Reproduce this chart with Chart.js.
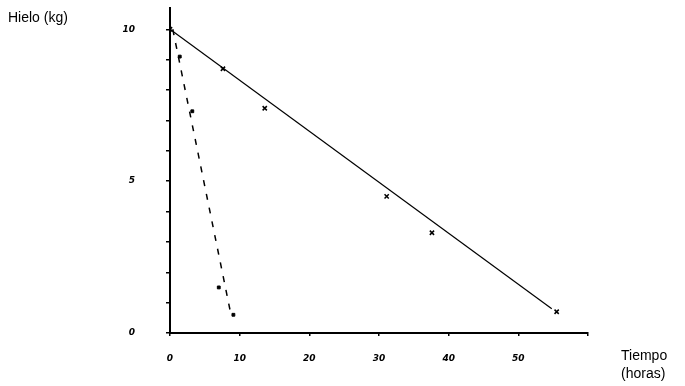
<!DOCTYPE html>
<html>
<head>
<meta charset="utf-8">
<script src="https://cdn.jsdelivr.net/npm/chart.js@4/dist/chart.umd.min.js"></script>
<style>
  html, body { margin: 0; padding: 0; background: #fff; }
  #wrap { width: 685px; height: 386px; }
</style>
</head>
<body>
<div id="wrap"><canvas id="chart" width="685" height="386"></canvas></div>
<script>
'use strict';

// measured points, first experiment (crosses, solid line)
var crossTime = [0, 7.6, 13.6, 31.1, 37.6, 55.5];
var crossIce = [10, 8.7, 7.4, 4.5, 3.3, 0.7];
// fitted straight line through those
var solidFitTime = [0, 54.8];
var solidFitIce = [10, 0.8];

// second experiment (dots, dashed line)
var dotTime = [1.4, 3.2, 7.0, 9.1];
var dotIce = [9.1, 7.3, 1.5, 0.6];
var dashFitTime = [0.4, 8.8];
var dashFitIce = [10, 0.55];

// axis ticks
var xTicks = [0, 10, 20, 30, 40, 50, 60];
var xLabelled = [0, 10, 20, 30, 40, 50];
var yLabelled = [0, 5, 10];

function toPoints(xs, ys) {
  var pts = [];
  for (var i = 0; i < xs.length; i++) {
    pts.push({x: xs[i], y: ys[i]});
  }
  return pts;
}

var tickFont = {family: '"DejaVu Sans"', size: 9, style: 'italic', weight: 'bold'};

//draws the two axis captions
var captions = {
  id: 'captions',
  afterDraw: function(chart) {
    var ctx = chart.ctx;
    ctx.save();
    ctx.fillStyle = '#000';
    ctx.font = '14px "Liberation Sans", Arial, sans-serif';
    ctx.textBaseline = 'middle';
    ctx.textAlign = 'left';
    ctx.fillText('Hielo (kg)', 8, 18);
    ctx.fillText('Tiempo', 621, 356);
    ctx.fillText('(horas)', 621, 374);
    ctx.restore();
  }
};

var ctx = document.getElementById('chart').getContext('2d');
new Chart(ctx, {
  type: 'scatter',
  data: {
    datasets: [
      {
        data: toPoints(solidFitTime, solidFitIce),
        showLine: true,
        borderColor: '#000',
        borderWidth: 1.2,
        pointRadius: 0
      },
      {
        data: toPoints(crossTime, crossIce),
        showLine: false,
        pointStyle: 'crossRot',
        pointRadius: 3,
        borderColor: '#000',
        borderWidth: 1.5
      },
      {
        data: toPoints(dashFitTime, dashFitIce),
        showLine: true,
        borderColor: '#000',
        borderWidth: 1.5,
        borderDash: [6, 8],
        pointRadius: 0
      },
      {
        data: toPoints(dotTime, dotIce),
        showLine: false,
        pointStyle: 'rect',
        pointRadius: 2,
        backgroundColor: '#000',
        borderColor: '#000',
        borderWidth: 1
      }
    ]
  },
  options: {
    responsive: false,
    animation: false,
    layout: {padding: {left: 0, right: 97, top: 8, bottom: 0}},
    plugins: {legend: {display: false}, tooltip: {enabled: false}},
    scales: {
      x: {
        type: 'linear',
        min: 0,
        max: 60,
        afterFit: function(scale) { scale.height = 53; },
        afterBuildTicks: function(scale) {
          scale.ticks = xTicks.map(function(v) { return {value: v}; });
        },
        border: {display: true, color: '#000', width: 2},
        grid: {drawOnChartArea: false, drawTicks: true, tickLength: 3, color: '#000', lineWidth: 1.5},
        ticks: {
          color: '#000',
          font: tickFont,
          padding: 17,
          maxRotation: 0,
          callback: function(v) { return xLabelled.indexOf(v) >= 0 ? String(v) : ''; }
        }
      },
      y: {
        type: 'linear',
        min: 0,
        max: 10.7,
        afterFit: function(scale) {
          scale.width = 170;
          // the wide label gap would otherwise push the plot down
          scale.paddingTop = 0;
          scale.paddingBottom = 0;
        },
        afterBuildTicks: function(scale) {
          var t = [];
          for (var v = 0; v <= 10; v++) t.push({value: v});
          scale.ticks = t;
        },
        border: {display: true, color: '#000', width: 2},
        grid: {drawOnChartArea: false, drawTicks: true, tickLength: 4, color: '#000', lineWidth: 1.5},
        ticks: {
          color: '#000',
          font: tickFont,
          padding: 31,
          callback: function(v) { return yLabelled.indexOf(v) >= 0 ? String(v) : ''; }
        }
      }
    }
  },
  plugins: [captions]
});
</script>
</body>
</html>
